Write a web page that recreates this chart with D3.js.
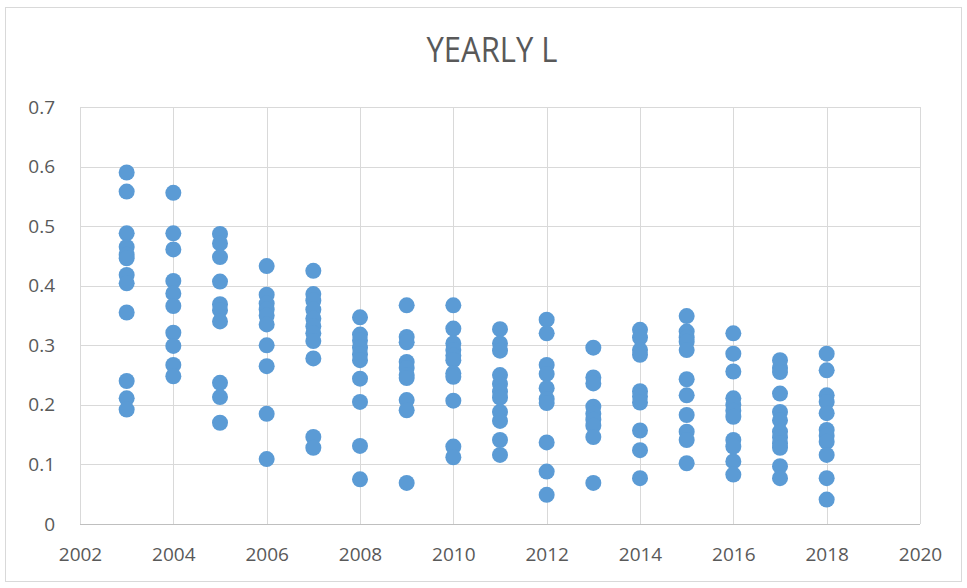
<!DOCTYPE html>
<html><head><meta charset="utf-8">
<script src="https://cdn.jsdelivr.net/npm/d3@7"></script>
<style>html,body{margin:0;padding:0;background:#fff;}svg{display:block;}</style>
</head><body>
<svg id="c" width="967" height="588"></svg>
<script>
const title = "YEARLY L";
const years = [2003,2004,2005,2006,2007,2008,2009,2010,2011,2012,2013,2014,2015,2016,2017,2018];
const v2003 = [0.590,0.558,0.488,0.465,0.452,0.446,0.418,0.404,0.355,0.240,0.211,0.192];
const v2004 = [0.556,0.488,0.461,0.408,0.387,0.366,0.321,0.299,0.267,0.248];
const v2005 = [0.487,0.471,0.448,0.407,0.369,0.359,0.340,0.237,0.213,0.170];
const v2006 = [0.433,0.385,0.370,0.360,0.350,0.335,0.300,0.265,0.185,0.109];
const v2007 = [0.425,0.386,0.375,0.360,0.345,0.332,0.320,0.307,0.278,0.146,0.128];
const v2008 = [0.347,0.318,0.308,0.296,0.285,0.275,0.244,0.205,0.131,0.075];
const v2009 = [0.367,0.314,0.305,0.272,0.262,0.250,0.245,0.208,0.191,0.069];
const v2010 = [0.367,0.328,0.303,0.292,0.283,0.275,0.253,0.247,0.207,0.130,0.112];
const v2011 = [0.327,0.303,0.291,0.250,0.235,0.222,0.212,0.188,0.173,0.141,0.116];
const v2012 = [0.343,0.320,0.267,0.252,0.228,0.210,0.203,0.137,0.088,0.049];
const v2013 = [0.296,0.246,0.236,0.197,0.185,0.175,0.165,0.146,0.069];
const v2014 = [0.326,0.313,0.292,0.284,0.223,0.214,0.204,0.157,0.124,0.077];
const v2015 = [0.349,0.323,0.313,0.306,0.292,0.243,0.216,0.183,0.155,0.141,0.102];
const v2016 = [0.320,0.286,0.256,0.211,0.200,0.190,0.180,0.141,0.130,0.105,0.083];
const v2017 = [0.275,0.262,0.255,0.219,0.188,0.174,0.155,0.145,0.135,0.128,0.097,0.077];
const v2018 = [0.286,0.258,0.216,0.205,0.186,0.158,0.148,0.138,0.116,0.077,0.041];
const valuesByYear = [v2003,v2004,v2005,v2006,v2007,v2008,v2009,v2010,v2011,v2012,v2013,v2014,v2015,v2016,v2017,v2018];
const xTicks = [2002,2004,2006,2008,2010,2012,2014,2016,2018,2020];
const yTicks = [0,0.1,0.2,0.3,0.4,0.5,0.6,0.7];

const points = [];
years.forEach((yr,i)=>valuesByYear[i].forEach(v=>points.push({x:yr,y:v})));

const svg = d3.select("#c");
const font = "'Open Sans', sans-serif";
const L=80, R=920, T=107, B=524;
const x = d3.scaleLinear().domain([2002,2020]).range([L,R]);
const y = d3.scaleLinear().domain([0,0.7]).range([B,T]);

svg.append("rect").attr("x",5.5).attr("y",7.5).attr("width",956).attr("height",574)
  .attr("fill","#fff").attr("stroke","#d9d9d9");

const tg = svg.append("g");
const tt = tg.append("text").attr("x",0).attr("y",0).attr("text-anchor","middle")
  .attr("font-family",font).attr("font-size",30).attr("fill","#595959").text(title);
const bb = tt.node().getBBox();
const sx = 131/bb.width;
tg.attr("transform",`translate(492,62) scale(${sx},${sx*1.1})`);

// gridlines
svg.append("g").selectAll("line").data(yTicks.filter(d=>d>0)).join("line")
  .attr("x1",L).attr("x2",R).attr("y1",d=>Math.round(y(d))+0.5).attr("y2",d=>Math.round(y(d))+0.5)
  .attr("stroke","#d9d9d9");
svg.append("g").selectAll("line").data(xTicks).join("line")
  .attr("y1",T).attr("y2",B).attr("x1",d=>Math.round(x(d))+0.5).attr("x2",d=>Math.round(x(d))+0.5)
  .attr("stroke","#d9d9d9");
svg.append("line").attr("x1",L).attr("x2",R).attr("y1",B+0.5).attr("y2",B+0.5).attr("stroke","#bfbfbf");

const yAxis = d3.axisLeft(y).tickValues(yTicks).tickSize(0).tickPadding(25).tickFormat(d=>d===0?"0":d3.format(".1f")(d));
const gy = svg.append("g").attr("transform",`translate(${L},0)`).call(yAxis);
gy.select(".domain").remove();
gy.selectAll("text").attr("font-family",font).attr("font-size",19).attr("fill","#595959");

const xAxis = d3.axisBottom(x).tickValues(xTicks).tickSize(0).tickPadding(24).tickFormat(d3.format("d"));
const gx = svg.append("g").attr("transform",`translate(0,${B})`).call(xAxis);
gx.select(".domain").remove();
gx.selectAll("text").attr("font-family",font).attr("font-size",19).attr("fill","#595959");

svg.append("g").selectAll("circle").data(points).join("circle")
  .attr("cx",d=>x(d.x)).attr("cy",d=>y(d.y)).attr("r",8).attr("fill","#5b9bd5");
</script>
</body></html>
